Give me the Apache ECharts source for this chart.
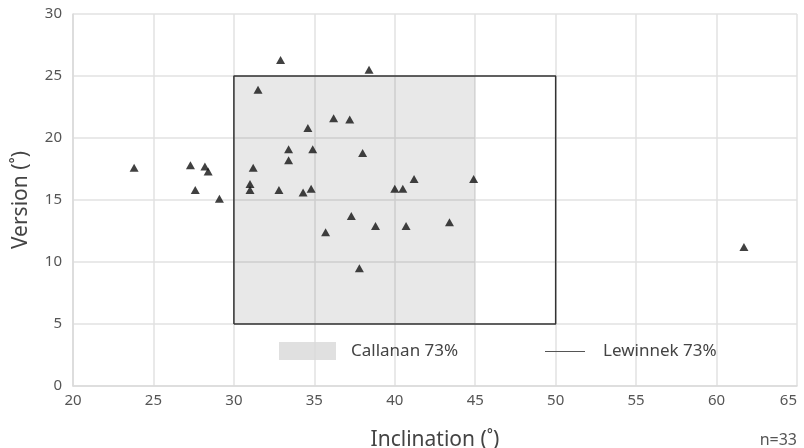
<!DOCTYPE html>
<html>
<head>
<meta charset="utf-8">
<script src="https://cdn.jsdelivr.net/npm/echarts@6/dist/echarts.min.js"></script>
<style>
  html, body { margin: 0; padding: 0; background: #fff; }
  #chart { width: 804px; height: 448px; }
</style>
</head>
<body>
<div id="chart"></div>
<script>
// cup position per patient
const inclination = [23.8, 27.3, 28.2, 28.4, 27.6, 29.1, 31.2, 31.0, 31.0, 32.9, 38.4,
  31.5, 34.6, 36.2, 37.2, 33.4, 34.9, 38.0, 33.4, 32.8, 34.3, 34.8, 35.7, 37.3, 38.8,
  40.7, 43.4, 37.8, 40.0, 40.5, 41.2, 44.9, 61.7];
const version = [17.6, 17.8, 17.7, 17.3, 15.8, 15.1, 17.6, 16.3, 15.8, 26.3, 25.5,
  23.9, 20.8, 21.6, 21.5, 19.1, 19.1, 18.8, 18.2, 15.8, 15.6, 15.9, 12.4, 13.7, 12.9,
  12.9, 13.2, 9.5, 15.9, 15.9, 16.7, 16.7, 11.2];

// safe zones: [min, max]
const callananIncl = [30, 45];
const callananVers = [5, 25];
const lewinnekIncl = [30, 50];
const lewinnekVers = [5, 25];

const FONT = 'Noto Sans';
const chart = echarts.init(document.getElementById('chart'));

const points = inclination.map((x, i) => [x, version[i]]);
const lewinnekBox = [
  [lewinnekIncl[0], lewinnekVers[0]],
  [lewinnekIncl[0], lewinnekVers[1]],
  [lewinnekIncl[1], lewinnekVers[1]],
  [lewinnekIncl[1], lewinnekVers[0]],
  [lewinnekIncl[0], lewinnekVers[0]]
];

const axisCommon = {
  type: 'value',
  interval: 5,
  axisLine: { show: true, lineStyle: { color: '#dadada', width: 1.5 } },
  axisTick: { show: false },
  splitLine: { show: true, lineStyle: { color: '#e2e2e2', width: 1.5 } },
  axisLabel: { color: '#555', fontSize: 15, fontFamily: FONT },
  nameTextStyle: { color: '#444', fontSize: 21, fontFamily: FONT }
};

chart.setOption({
  animation: false,
  textStyle: { fontFamily: FONT },
  grid: { left: 73, right: 7, top: 14, bottom: 62, outerBoundsMode: 'none', containLabel: false },
  xAxis: Object.assign({}, axisCommon, {
    min: 20, max: 65,
    name: 'Inclination (˚)',
    nameLocation: 'middle',
    nameGap: 44,
    axisLabel: Object.assign({}, axisCommon.axisLabel, { margin: 7, alignMaxLabel: 'right' })
  }),
  yAxis: Object.assign({}, axisCommon, {
    min: 0, max: 30,
    name: 'Version (˚)',
    nameLocation: 'middle',
    nameGap: 41,
    axisLabel: Object.assign({}, axisCommon.axisLabel, { margin: 11 })
  }),
  legend: [{
    left: 274, top: 337,
    itemWidth: 57, itemHeight: 18, itemGap: 0,
    textStyle: { color: '#444', fontSize: 17, fontFamily: FONT, padding: [0, 0, 0, 10] },
    data: [{ name: 'Callanan 73%', icon: 'rect' }]
  }, {
    left: 540, top: 338,
    itemWidth: 40, itemHeight: 1,
    textStyle: { color: '#444', fontSize: 17, fontFamily: FONT, padding: [0, 0, 0, 13] },
    data: [{ name: 'Lewinnek 73%', icon: 'rect', itemStyle: { color: '#555' } }]
  }],
  graphic: [{
    type: 'text',
    right: 7, bottom: 0,
    style: { text: 'n=33', fill: '#555', fontSize: 16, fontFamily: FONT }
  }],
  series: [{
    name: 'Callanan 73%',
    type: 'scatter',
    data: [],
    itemStyle: { color: '#d8d8d8' },
    z: 1,
    markArea: {
      silent: true,
      itemStyle: { color: 'rgba(0,0,0,0.09)' },
      data: [[
        { coord: [callananIncl[0], callananVers[0]] },
        { coord: [callananIncl[1], callananVers[1]] }
      ]]
    }
  }, {
    name: 'Lewinnek 73%',
    type: 'line',
    data: lewinnekBox,
    symbol: 'none',
    z: 2,
    lineStyle: { color: '#333', width: 1.5 },
    itemStyle: { color: '#555' }
  }, {
    name: 'Cups',
    type: 'scatter',
    data: points,
    symbol: 'triangle',
    symbolSize: [9, 8],
    z: 3,
    itemStyle: { color: '#111' }
  }]
});
</script>
</body>
</html>
